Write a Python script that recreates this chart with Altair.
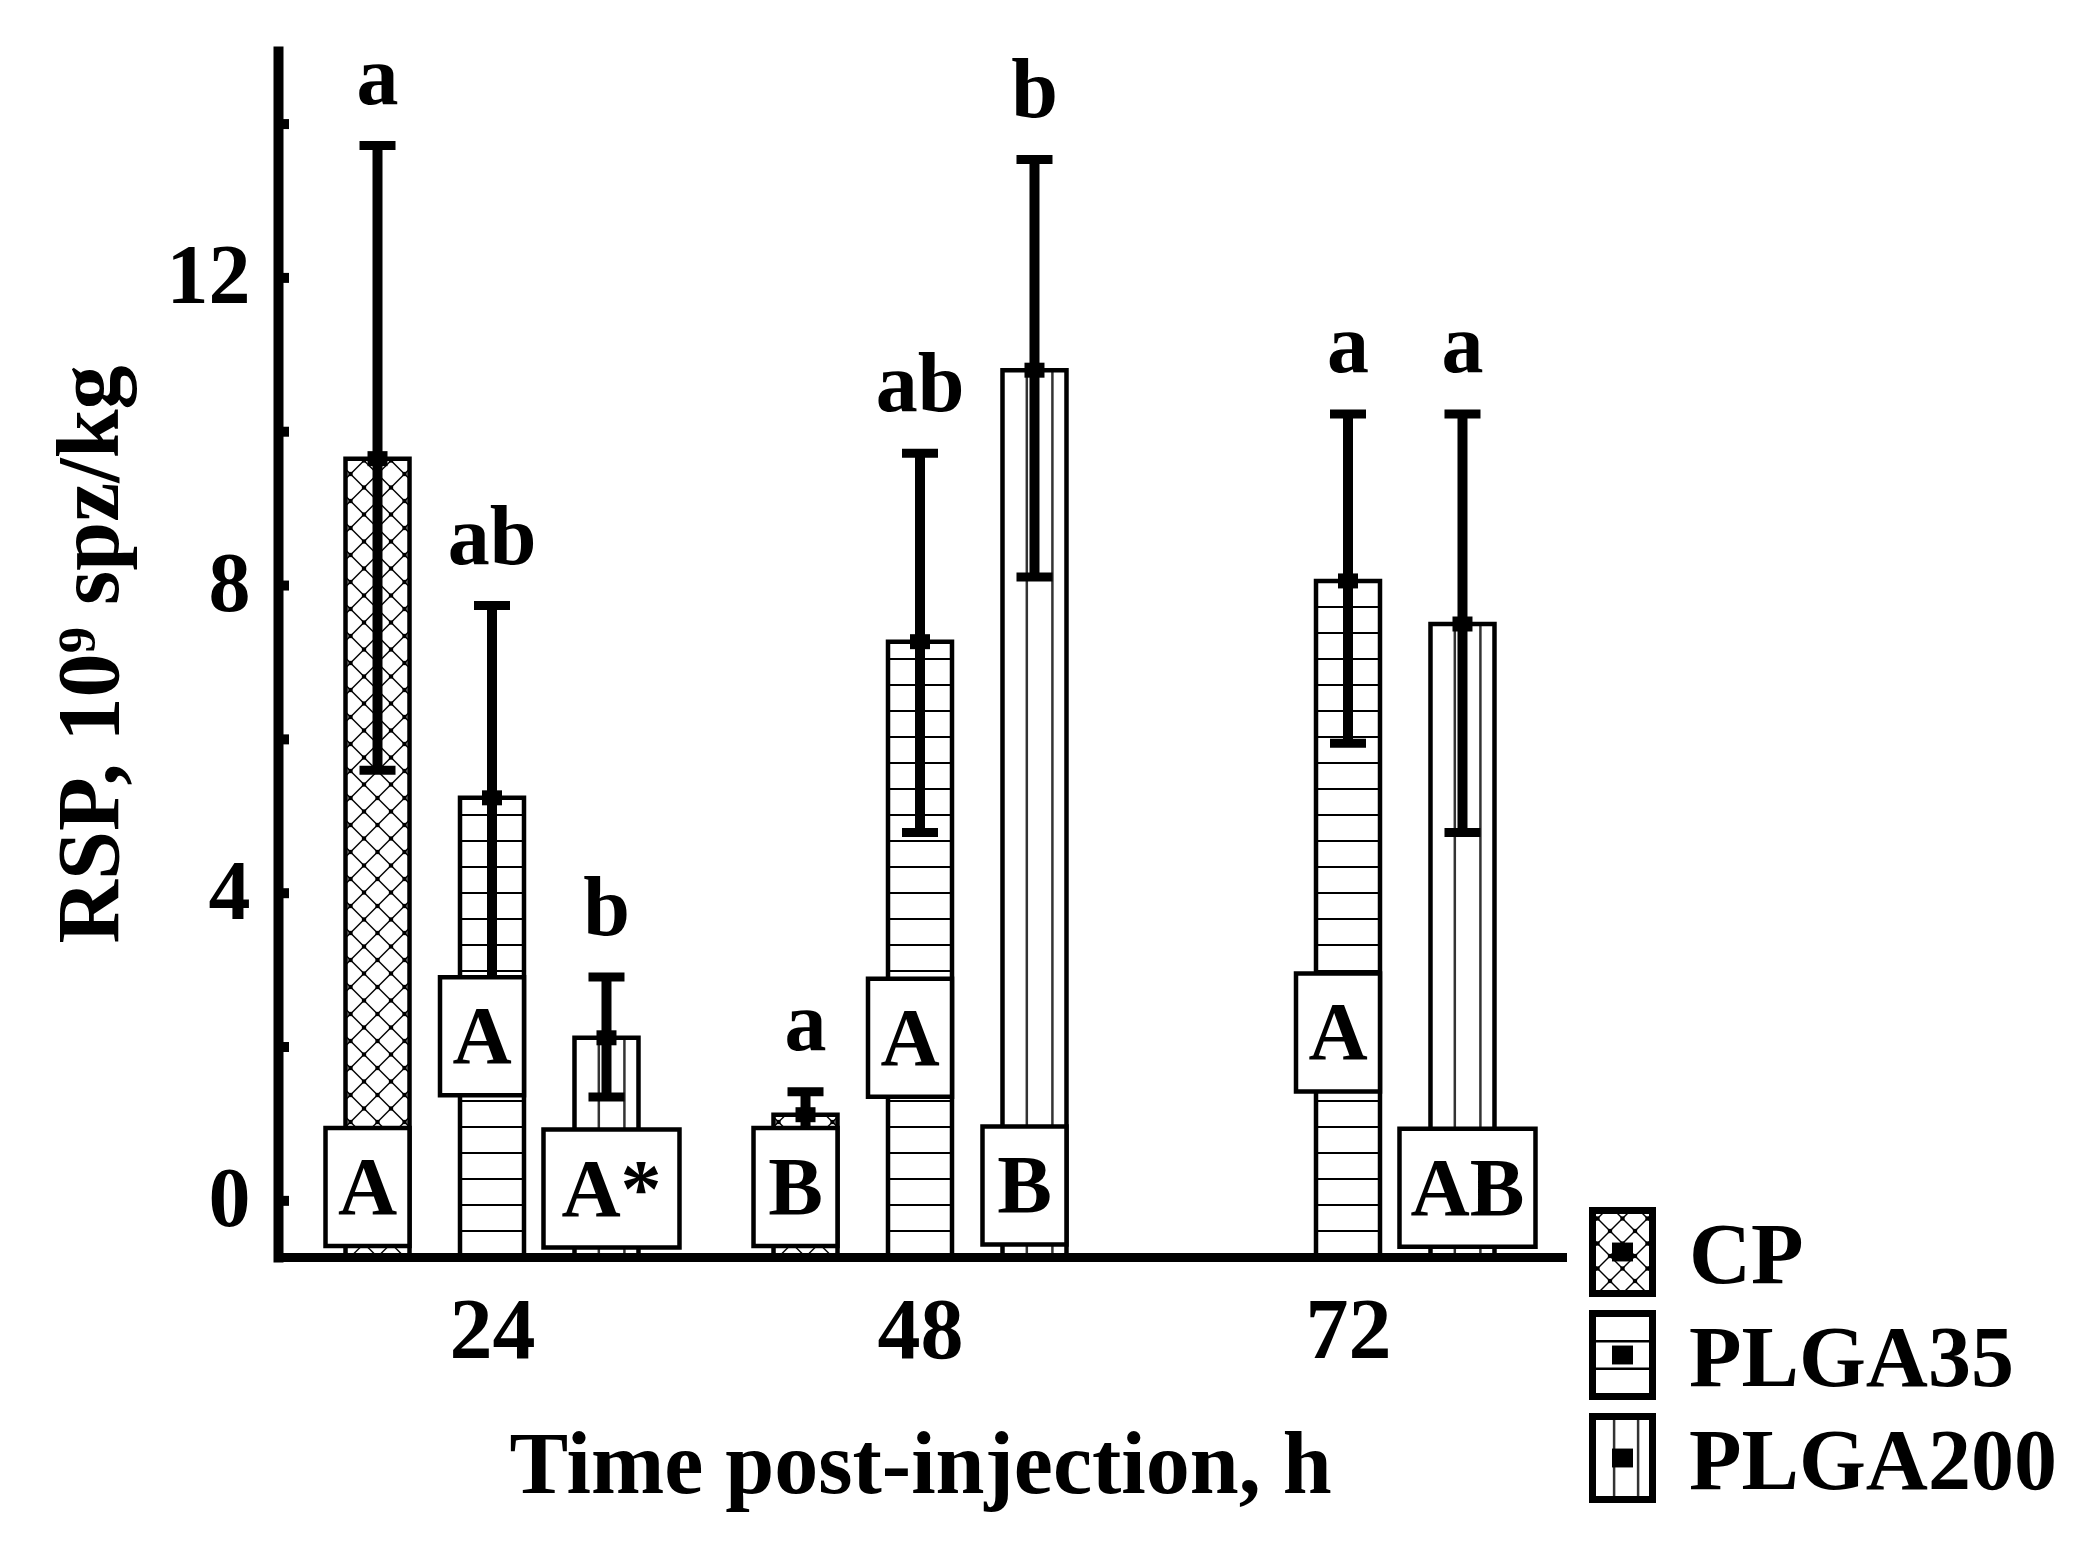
import altair as alt
import numpy as np
import pandas as pd

# ------------------------------------------------------------------ data
times = [24, 48, 72]
series_names = ["CP", "PLGA35", "PLGA200"]

cp_mean = [9.65, 1.12, None]
cp_low = [5.60, 0.82, None]
cp_high = [13.72, 1.42, None]

plga35_mean = [5.24, 7.27, 8.06]
plga35_low = [2.74, 4.79, 5.95]
plga35_high = [7.74, 9.72, 10.23]

plga200_mean = [2.12, 10.80, 7.50]
plga200_low = [1.35, 8.11, 4.79]
plga200_high = [2.91, 13.54, 10.23]

# lower-case letters above the error bars
cp_letters = ["a", "a", None]
plga35_letters = ["ab", "ab", "a"]
plga200_letters = ["b", "b", "a"]

# upper-case letters in boxes and the level (y value) of each box centre
cp_boxes = ["A", "B", None]
plga35_boxes = ["A", "A", "A"]
plga200_boxes = ["A*", "B", "AB"]
cp_box_level = [0.18, 0.18, None]
plga35_box_level = [2.14, 2.12, 2.19]
plga200_box_level = [0.16, 0.20, 0.17]

y_label_values = [0, 4, 8, 12]
y_tick_values = [0, 2, 4, 6, 8, 10, 12, 14]
x_label_values = [24, 48, 72]

x_title = "Time post-injection, h"
y_title = "RSP, 10\u2079 spz/kg"

# ------------------------------------------------------------------ layout / style
W, H = 1284, 1206
X_DOM = [12, 84]
Y_DOM = [-0.73, 14.95]
PX_X = W / (X_DOM[1] - X_DOM[0])
PX_Y = H / (Y_DOM[1] - Y_DOM[0])
BASE = Y_DOM[0]
GROUP_OFFSET = {"CP": -6.42, "PLGA35": 0.0, "PLGA200": 6.42}
BAR_HALF_PX = 32
CAP_HALF_PX = 18
BOX_HALF_H_PX = 59
FONT = "Liberation Serif"

series_mean = {"CP": cp_mean, "PLGA35": plga35_mean, "PLGA200": plga200_mean}
series_low = {"CP": cp_low, "PLGA35": plga35_low, "PLGA200": plga200_low}
series_high = {"CP": cp_high, "PLGA35": plga35_high, "PLGA200": plga200_high}
series_letters = {"CP": cp_letters, "PLGA35": plga35_letters, "PLGA200": plga200_letters}
series_boxes = {"CP": cp_boxes, "PLGA35": plga35_boxes, "PLGA200": plga200_boxes}
series_box_level = {"CP": cp_box_level, "PLGA35": plga35_box_level, "PLGA200": plga200_box_level}

rows = []
for s in series_names:
    for j, t in enumerate(times):
        m = series_mean[s][j]
        if m is None:
            continue
        pos = t + GROUP_OFFSET[s]
        box = series_boxes[s][j]
        box_half_px = 42 if len(box) == 1 else 68
        box_shift_px = -10 if len(box) == 1 else 5
        bc = pos + box_shift_px / PX_X
        rows.append(dict(
            series=s, time=t, pos=pos,
            x0=pos - BAR_HALF_PX / PX_X, x1=pos + BAR_HALF_PX / PX_X,
            base=BASE, mean=m, low=series_low[s][j], high=series_high[s][j],
            cx0=pos - CAP_HALF_PX / PX_X, cx1=pos + CAP_HALF_PX / PX_X,
            letter=series_letters[s][j], box=box,
            bx=bc, bx0=bc - box_half_px / PX_X, bx1=bc + box_half_px / PX_X,
            by=series_box_level[s][j],
            by0=series_box_level[s][j] - BOX_HALF_H_PX / PX_Y,
            by1=series_box_level[s][j] + BOX_HALF_H_PX / PX_Y,
        ))
bars = pd.DataFrame(rows)


def crosshatch(w, h, s):
    """diamond lattice segments and crossing points in a w x h box (y up)."""
    c0 = w / 2.0
    segs, pts = [], []
    kr = range(int(np.floor(-c0 / s)) - 2, int(np.ceil((w + h - c0) / s)) + 2)
    mr = range(int(np.floor((-h - c0) / s)) - 2, int(np.ceil((w - c0) / s)) + 2)
    for k in kr:
        c = c0 + k * s
        xa, xb = max(0.0, c - h), min(w, c)
        if xb - xa > 0.5:
            segs.append((xa, c - xa, xb, c - xb))
    for m in mr:
        d = c0 + m * s
        xa, xb = max(0.0, d), min(w, h + d)
        if xb - xa > 0.5:
            segs.append((xa, xa - d, xb, xb - d))
    for k in kr:
        for m in mr:
            c, d = c0 + k * s, c0 + m * s
            x, y = (c + d) / 2, (c - d) / 2
            if 0 <= x <= w and 0 <= y <= h:
                pts.append((x, y))
    return segs, pts


# ---- patterns in data space
hl, vl, cs, cp_pts = [], [], [], []
for r in bars.itertuples():
    if r.series == "PLGA35":
        k = 1
        while True:
            yv = r.base + k * 26 / PX_Y
            if yv >= r.mean - 4 / PX_Y:
                break
            hl.append(dict(x0=r.x0, x1=r.x1, y=yv))
            k += 1
    elif r.series == "PLGA200":
        for f in (0.38, 0.78):
            vl.append(dict(x=r.x0 + f * (r.x1 - r.x0), y0=r.base, y1=r.mean))
    else:
        w = (r.x1 - r.x0) * PX_X
        h = (r.mean - r.base) * PX_Y
        segs, pts = crosshatch(w, h, 27)
        for (xa, ya, xb, yb) in segs:
            cs.append(dict(x0=r.x0 + xa / PX_X, y0=r.base + ya / PX_Y,
                           x1=r.x0 + xb / PX_X, y1=r.base + yb / PX_Y))
        for (x, y) in pts:
            cp_pts.append(dict(x=r.x0 + x / PX_X, y=r.base + y / PX_Y))
hl, vl, cs, cp_pts = map(pd.DataFrame, (hl, vl, cs, cp_pts))

# ---- legend (pixel space, relative to plot origin)
LEG_X0, LEG_X1 = 1314.5, 1374.5
LEG_TOP, LEG_H, LEG_STEP = 1159.5, 83, 103
leg_rows, leg_h, leg_v, leg_cs, leg_pts = [], [], [], [], []
for i, s in enumerate(series_names):
    top = LEG_TOP + i * LEG_STEP
    bot = top + LEG_H
    leg_rows.append(dict(series=s, x0=LEG_X0, x1=LEG_X1, y0=top, y1=bot,
                         cx=(LEG_X0 + LEG_X1) / 2, cy=(top + bot) / 2,
                         tx=1411, ty=(top + bot) / 2 + 31))
    if s == "PLGA35":
        for f in (1 / 3, 2 / 3):
            leg_h.append(dict(x0=LEG_X0, x1=LEG_X1, y=top + f * LEG_H))
    elif s == "PLGA200":
        for f in (0.36, 0.76):
            leg_v.append(dict(x=LEG_X0 + f * (LEG_X1 - LEG_X0), y0=top, y1=bot))
    else:
        segs, pts = crosshatch(LEG_X1 - LEG_X0, LEG_H, 25)
        for (xa, ya, xb, yb) in segs:
            leg_cs.append(dict(x0=LEG_X0 + xa, y0=bot - ya, x1=LEG_X0 + xb, y1=bot - yb))
        for (x, y) in pts:
            leg_pts.append(dict(x=LEG_X0 + x, y=bot - y))
leg = pd.DataFrame(leg_rows)
leg_h, leg_v, leg_cs, leg_pts = map(pd.DataFrame, (leg_h, leg_v, leg_cs, leg_pts))

# ------------------------------------------------------------------ encodings
xs = alt.Scale(domain=X_DOM, nice=False, zero=False)
ys = alt.Scale(domain=Y_DOM, nice=False, zero=False)

x_axis = alt.Axis(
    values=x_label_values, format="d", title=x_title, ticks=False, tickSize=0,
    labelPadding=100, labelBaseline="alphabetic", labelFont=FONT, labelFontSize=86,
    labelFontWeight="bold", labelColor="black", labelOverlap=False, labelFlush=False,
    domainColor="black", domainWidth=9, domainCap="square", grid=False,
    titleFont=FONT, titleFontSize=88, titleFontWeight="bold", titleColor="black",
    titleY=235, titleBaseline="alphabetic", zindex=1,
)
y_axis = alt.Axis(
    values=y_label_values, format="d", title=y_title, ticks=False, tickSize=0,
    labelPadding=28, labelFont=FONT, labelFontSize=84, labelFontWeight="bold",
    labelColor="black", labelOverlap=False, labelFlush=False, labelBaseline="middle",
    domainColor="black", domainWidth=10, domainCap="square", grid=False,
    titleFont=FONT, titleFontSize=88, titleFontWeight="bold", titleColor="black",
    titleAngle=270, titleX=-161, titleBaseline="alphabetic", zindex=1,
)


def X(f):
    return alt.X(f"{f}:Q", scale=xs, axis=x_axis)


def Y(f):
    return alt.Y(f"{f}:Q", scale=ys, axis=y_axis)


def PX(f):
    return alt.X(f"{f}:Q", scale=None)


def PY(f):
    return alt.Y(f"{f}:Q", scale=None)


base = alt.Chart(bars)

bar_fill = base.mark_rect(fill="white", strokeWidth=0).encode(
    x=X("x0"), x2="x1:Q", y=Y("base"), y2="mean:Q")
h_lines = alt.Chart(hl).mark_rule(color="black", strokeWidth=2.2).encode(
    x=X("x0"), x2="x1:Q", y=Y("y"))
v_lines = alt.Chart(vl).mark_rule(color="#333333", strokeWidth=2.5).encode(
    x=X("x"), y=Y("y0"), y2="y1:Q")
cross_lines = alt.Chart(cs).mark_rule(color="black", strokeWidth=1.4).encode(
    x=X("x0"), y=Y("y0"), x2="x1:Q", y2="y1:Q")
cross_dots = alt.Chart(cp_pts).mark_square(color="black", size=18, opacity=1).encode(
    x=X("x"), y=Y("y"))
bar_outline = base.mark_rect(fillOpacity=0, stroke="black", strokeWidth=4.5).encode(
    x=X("x0"), x2="x1:Q", y=Y("base"), y2="mean:Q")

err_line = base.mark_rule(color="black", strokeWidth=10).encode(
    x=X("pos"), y=Y("low"), y2="high:Q")
cap_hi = base.mark_rule(color="black", strokeWidth=9).encode(
    x=X("cx0"), x2="cx1:Q", y=Y("high"))
cap_lo = base.mark_rule(color="black", strokeWidth=9).encode(
    x=X("cx0"), x2="cx1:Q", y=Y("low"))
mean_mark = base.mark_point(
    shape="M-1,-0.75L1,-0.75L1,0.75L-1,0.75Z", size=400, filled=True,
    color="black", opacity=1).encode(x=X("pos"), y=Y("mean"))

boxes = base.mark_rect(fill="white", stroke="black", strokeWidth=4.5).encode(
    x=X("bx0"), x2="bx1:Q", y=Y("by0"), y2="by1:Q")
box_text = base.mark_text(
    font=FONT, fontSize=82, fontWeight="bold", color="black",
    align="center", baseline="alphabetic", dy=27).encode(
    x=X("bx"), y=Y("by"), text="box:N")
letters = base.mark_text(
    font=FONT, fontSize=84, fontWeight="bold", color="black",
    align="center", baseline="alphabetic", dy=-42).encode(
    x=X("pos"), y=Y("high"), text="letter:N")

y_ticks = alt.Chart(pd.DataFrame({"v": y_tick_values})).mark_rule(
    color="black", strokeWidth=10).encode(
    x=alt.value(5), x2=alt.value(11), y=Y("v"))

# legend layers
leg_box = alt.Chart(leg).mark_rect(fill="white", strokeWidth=0).encode(
    x=PX("x0"), x2="x1:Q", y=PY("y0"), y2="y1:Q")
leg_hl = alt.Chart(leg_h).mark_rule(color="black", strokeWidth=2.5).encode(
    x=PX("x0"), x2="x1:Q", y=PY("y"))
leg_vl = alt.Chart(leg_v).mark_rule(color="#333333", strokeWidth=2.5).encode(
    x=PX("x"), y=PY("y0"), y2="y1:Q")
leg_cl = alt.Chart(leg_cs).mark_rule(color="black", strokeWidth=1.4).encode(
    x=PX("x0"), y=PY("y0"), x2="x1:Q", y2="y1:Q")
leg_cd = alt.Chart(leg_pts).mark_square(color="black", size=18, opacity=1).encode(
    x=PX("x"), y=PY("y"))
leg_outline = alt.Chart(leg).mark_rect(fillOpacity=0, stroke="black", strokeWidth=7).encode(
    x=PX("x0"), x2="x1:Q", y=PY("y0"), y2="y1:Q")
leg_center = alt.Chart(leg).mark_point(
    shape="M-1,-0.9L1,-0.9L1,0.9L-1,0.9Z", size=441, filled=True,
    color="black", opacity=1).encode(x=PX("cx"), y=PY("cy"))
leg_text = alt.Chart(leg).mark_text(
    font=FONT, fontSize=86, fontWeight="bold", color="black",
    align="left", baseline="alphabetic").encode(
    x=PX("tx"), y=PY("ty"), text="series:N")

chart = alt.layer(
    bar_fill, h_lines, v_lines, cross_lines, cross_dots, bar_outline,
    err_line, cap_hi, cap_lo, mean_mark,
    boxes, box_text, letters, y_ticks,
    leg_box, leg_hl, leg_vl, leg_cl, leg_cd, leg_outline, leg_center, leg_text,
).properties(
    width=W, height=H,
    background="white",
    autosize=alt.AutoSizeParams(type="none"),
    padding={"left": 270, "top": 43, "right": 500, "bottom": 262},
).configure_view(stroke=None)

chart.save("out.html", embed_options={"renderer": "svg", "actions": False})
